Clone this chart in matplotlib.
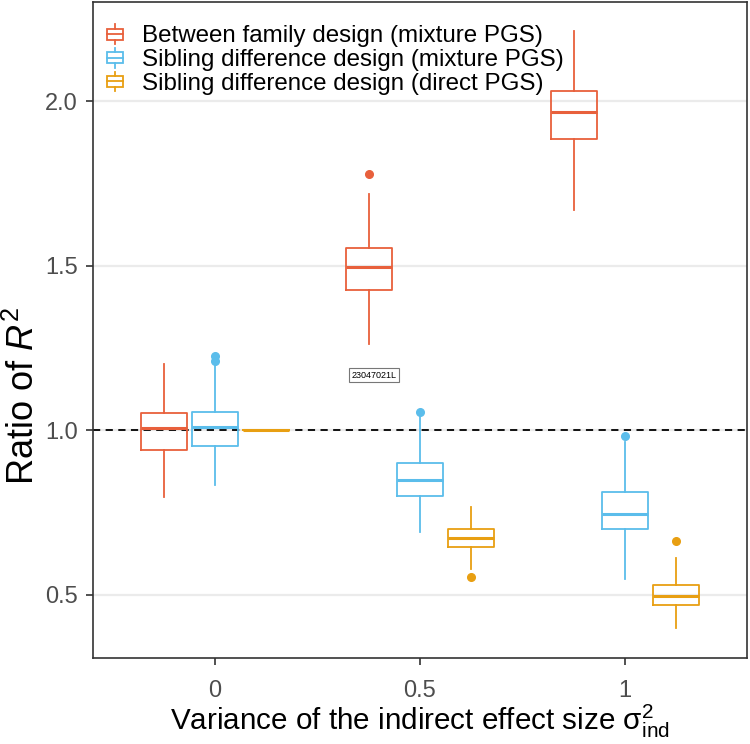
import matplotlib
matplotlib.use("Agg")
import matplotlib.pyplot as plt
from matplotlib.legend_handler import HandlerBase
from matplotlib.patches import Rectangle
from matplotlib.lines import Line2D

plt.rcParams['font.family'] = ['Liberation Sans', 'DejaVu Sans']
plt.rcParams['mathtext.fontset'] = 'custom'
plt.rcParams['mathtext.rm'] = 'Liberation Sans'
plt.rcParams['mathtext.it'] = 'Liberation Sans:italic'

# valeurs
groupes = [0, 0.5, 1]
etiquettes_x = ["0", "0.5", "1"]

between_med = [1.005, 1.496, 1.966]
between_q1 = [0.939, 1.426, 1.884]
between_q3 = [1.051, 1.553, 2.031]
between_lo = [0.796, 1.261, 1.669]
between_hi = [1.200, 1.717, 2.213]
between_out = [[], [1.778], []]

sibmix_med = [1.009, 0.848, 0.746]
sibmix_q1 = [0.951, 0.799, 0.698]
sibmix_q3 = [1.056, 0.899, 0.811]
sibmix_lo = [0.833, 0.691, 0.547]
sibmix_hi = [1.195, 1.040, 0.965]
sibmix_out = [[1.211, 1.226], [1.056], [0.982]]

sibdir_med = [1.0, 0.673, 0.495]
sibdir_q1 = [1.0, 0.643, 0.469]
sibdir_q3 = [1.0, 0.700, 0.528]
sibdir_lo = [1.0, 0.577, 0.397]
sibdir_hi = [1.0, 0.767, 0.612]
sibdir_out = [[], [0.552], [0.663]]

series = [
    ("Between family design (mixture PGS)", "#E8603C",
     between_med, between_q1, between_q3, between_lo, between_hi, between_out),
    ("Sibling difference design (mixture PGS)", "#5BBDEB",
     sibmix_med, sibmix_q1, sibmix_q3, sibmix_lo, sibmix_hi, sibmix_out),
    ("Sibling difference design (direct PGS)", "#E89F12",
     sibdir_med, sibdir_q1, sibdir_q3, sibdir_lo, sibdir_hi, sibdir_out),
]
decalages = [-0.124, 0.0, 0.124]
largeur = 0.112


# petite boite pour la legende
class BoxHandler(HandlerBase):
    def create_artists(self, legend, orig_handle, xd, yd, w, h, fontsize, trans):
        c = orig_handle.get_color()
        cx = xd + w / 2
        bw = w * 0.9
        rect = Rectangle((cx - bw / 2, yd + h * 0.15), bw, h * 0.65, fill=False,
                         edgecolor=c, lw=1.3, transform=trans)
        med = Line2D([cx - bw / 2, cx + bw / 2], [yd + h * 0.48] * 2, color=c, lw=1.3, transform=trans)
        wh1 = Line2D([cx, cx], [yd + h * 0.8, yd + h * 1.05], color=c, lw=1.3, transform=trans)
        wh2 = Line2D([cx, cx], [yd - h * 0.1, yd + h * 0.15], color=c, lw=1.3, transform=trans)
        return [rect, med, wh1, wh2]


fig = plt.figure(figsize=(7.5, 7.44), dpi=100)
ax = fig.add_axes([0.124, 0.1156, 0.872, 0.8814])

ax.set_axisbelow(True)
ax.yaxis.grid(True, color="#EBEBEB", lw=1.6)
ax.axhline(1.0, color="black", ls=(0, (4, 3)), lw=1.3, zorder=1)

poignees = []
for k, (nom, couleur, med, q1, q3, lo, hi, out) in enumerate(series):
    stats = []
    for i in range(len(groupes)):
        stats.append(dict(med=med[i], q1=q1[i], q3=q3[i], whislo=lo[i], whishi=hi[i], fliers=out[i]))
    pos = [g + decalages[k] for g in groupes]
    ax.bxp(stats, positions=pos, widths=largeur, showcaps=False, manage_ticks=False,
           boxprops=dict(color=couleur, lw=1.3),
           whiskerprops=dict(color=couleur, lw=1.3),
           medianprops=dict(color=couleur, lw=2.2),
           flierprops=dict(marker="o", markerfacecolor=couleur, markeredgecolor=couleur,
                           markersize=5.5, linestyle="none"),
           zorder=3)
    poignees.append(Line2D([], [], color=couleur, label=nom))

ax.set_xlim(-0.298, 1.298)
ax.set_ylim(0.307, 2.301)
ax.set_xticks(groupes)
ax.set_xticklabels(etiquettes_x)
ax.set_yticks([0.5, 1.0, 1.5, 2.0])
ax.set_yticklabels(["0.5", "1.0", "1.5", "2.0"])
ax.tick_params(axis="both", labelsize=17, colors="#4D4D4D", length=5, width=1.2)
ax.tick_params(axis="y", pad=6)
ax.tick_params(axis="x", pad=11)
ax.tick_params(axis="both", color="#333333")
for s in ax.spines.values():
    s.set_color("#333333")
    s.set_linewidth(1.2)

ax.set_ylabel("Ratio of $R^2$", fontsize=26)
ax.yaxis.set_label_coords(-0.105, 0.40)
ax.yaxis.label.set_va("center")
ax.set_xlabel(r"Variance of the indirect effect size $\mathrm{\sigma}^2_{\mathrm{ind}}$", fontsize=21.3)
ax.xaxis.set_label_coords(0.5, -0.1098)
ax.xaxis.label.set_va("baseline")

ax.legend(handles=poignees, handler_map={Line2D: BoxHandler()}, loc="upper left",
          bbox_to_anchor=(-0.015, 1.0), frameon=False, fontsize=17.4, labelspacing=0.07,
          handlelength=0.75, handletextpad=0.75, borderaxespad=0.55)

ax.text(0.388, 1.167, "23047021L", fontsize=6.5, ha="center", va="center", zorder=5,
        bbox=dict(boxstyle="square,pad=0.3", facecolor="white", edgecolor="#777777", lw=0.8))

fig.savefig("out.png", dpi=100)
